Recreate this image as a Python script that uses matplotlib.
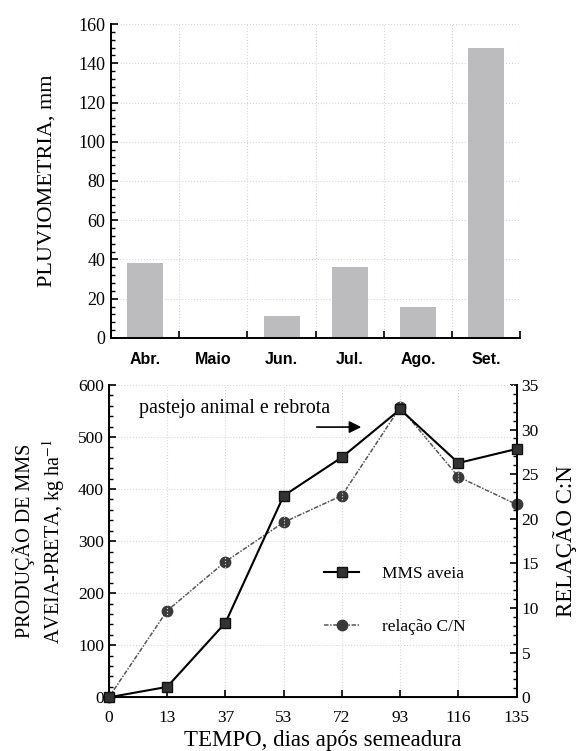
import numpy as np
import matplotlib
matplotlib.use("Agg")
import matplotlib.pyplot as plt
from matplotlib.ticker import MultipleLocator, FixedLocator, NullFormatter
from matplotlib.lines import Line2D

plt.rcParams['font.family'] = ['Liberation Serif', 'DejaVu Serif']
plt.rcParams['mathtext.fontset'] = 'stix'

# rainfall data (top)
months = ['Abr.', 'Maio', 'Jun.', 'Jul.', 'Ago.', 'Set.']
rain_mm = [38, 0, 11, 36, 16, 148]

# oat dry matter and C:N (bottom)
days = ['0', '13', '37', '53', '72', '93', '116', '135']
mms_aveia = [0, 20, 143, 387, 461, 553, 450, 477]
relacao_cn = [0, 9.7, 15.2, 19.6, 22.6, 32.5, 24.7, 21.6]

fig = plt.figure(figsize=(5.76, 7.51), dpi=100)

grid_kw = dict(color='#d8d8d8', linestyle=':', linewidth=0.8)

# ---- top: pluviometria
ax1 = fig.add_axes([0.193, 0.550, 0.710, 0.418])
x = np.arange(len(months))
ax1.bar(x, rain_mm, width=0.53, color='#bcbcbe', zorder=2)
ax1.set_xlim(-0.5, len(months) - 0.5)
ax1.set_ylim(0, 160)
ax1.xaxis.set_major_locator(FixedLocator(np.arange(-0.5, len(months), 1.0)))
ax1.xaxis.set_major_formatter(NullFormatter())
ax1.xaxis.set_minor_locator(FixedLocator(x))
ax1.set_xticklabels(months, minor=True, family=['Liberation Sans', 'DejaVu Sans'],
                    fontweight='bold', fontsize=11.5)
ax1.tick_params(axis='x', which='minor', length=0, pad=10)
ax1.tick_params(axis='x', which='major', direction='in', length=5, width=1.2)
ax1.yaxis.set_major_locator(MultipleLocator(20))
ax1.yaxis.set_minor_locator(MultipleLocator(4))
ax1.tick_params(axis='y', which='major', direction='in', length=5, width=1.2, labelsize=13, pad=4)
ax1.tick_params(axis='y', which='minor', direction='in', length=3, width=1)
for s in ['top', 'right']:
    ax1.spines[s].set_visible(False)
for s in ['left', 'bottom']:
    ax1.spines[s].set_linewidth(1.4)
ax1.grid(True, which='major', **grid_kw)
ax1.set_axisbelow(True)
ax1.set_ylabel('PLUVIOMETRIA, mm', fontsize=16, labelpad=16)

# ---- bottom: MMS and C/N
ax2 = fig.add_axes([0.189, 0.0715, 0.708, 0.416])
xd = np.arange(len(days))
ax2.plot(xd, mms_aveia, color='black', linewidth=1.5, marker='s', markersize=7.5,
         markerfacecolor='#333333', markeredgecolor='#111111', zorder=4, clip_on=False)
ax2.set_xlim(0, len(days) - 1)
ax2.set_ylim(0, 600)
ax2.set_xticks(xd)
ax2.set_xticklabels(days)
ax2.yaxis.set_major_locator(MultipleLocator(100))
ax2.yaxis.set_minor_locator(MultipleLocator(20))
ax2.tick_params(axis='both', which='major', direction='in', length=5, width=1.2, labelsize=12.5)
ax2.tick_params(axis='x', which='major', pad=9)
ax2.tick_params(axis='y', which='minor', direction='in', length=3, width=1)
ax2.spines['top'].set_visible(False)
for s in ['left', 'bottom', 'right']:
    ax2.spines[s].set_linewidth(1.4)
ax2.grid(True, which='major', **grid_kw)
ax2.set_axisbelow(True)
ax2.set_xlabel('TEMPO, dias após semeadura', fontsize=16.5, labelpad=4)
ax2.xaxis.set_label_coords(0.525, -0.105)
ax2.set_ylabel('PRODUÇÃO DE MMS\nAVEIA-PRETA, kg ha$^{-1}$', fontsize=14.5, labelpad=8,
               linespacing=1.25)

ax3 = ax2.twinx()
ax3.plot(xd, relacao_cn, color='#555555', linewidth=1.1, linestyle=(0, (3, 1, 1, 1)),
         marker='o', markersize=7.5, markerfacecolor='#3a3a3a', markeredgecolor='#3a3a3a',
         zorder=3, clip_on=False)
ax3.set_ylim(0, 35)
ax3.yaxis.set_major_locator(MultipleLocator(5))
ax3.yaxis.set_minor_locator(MultipleLocator(1))
ax3.tick_params(axis='y', which='major', direction='in', length=5, width=1.2, labelsize=12.5)
ax3.tick_params(axis='y', which='minor', direction='in', length=3, width=1)
ax3.spines['top'].set_visible(False)
ax3.spines['right'].set_linewidth(1.4)
ax3.set_ylabel('RELAÇÃO C:N', fontsize=16.5, labelpad=10)
ax2.set_zorder(ax3.get_zorder() + 1)
ax2.patch.set_visible(False)

ax2.text(0.52, 555, 'pastejo animal e rebrota', fontsize=14.3, va='center', ha='left')
ax2.annotate('', xy=(4.38, 519), xytext=(3.52, 519),
             arrowprops=dict(arrowstyle='-|>', color='black', lw=1.2, mutation_scale=18))

handles = [
    Line2D([], [], color='black', linewidth=1.5, marker='s', markersize=7.5,
           markerfacecolor='#333333', markeredgecolor='#111111'),
    Line2D([], [], color='#555555', linewidth=1.1, linestyle=(0, (3, 1, 1, 1)), marker='o',
           markersize=7.5, markerfacecolor='#3a3a3a', markeredgecolor='#3a3a3a'),
]
ax2.legend(handles, ['MMS aveia', 'relação C/N'], loc='upper left',
           bbox_to_anchor=(0.49, 0.47), frameon=False, fontsize=12.5,
           handlelength=2.0, handletextpad=1.3, labelspacing=2.1)

fig.savefig('out.png', dpi=100)
